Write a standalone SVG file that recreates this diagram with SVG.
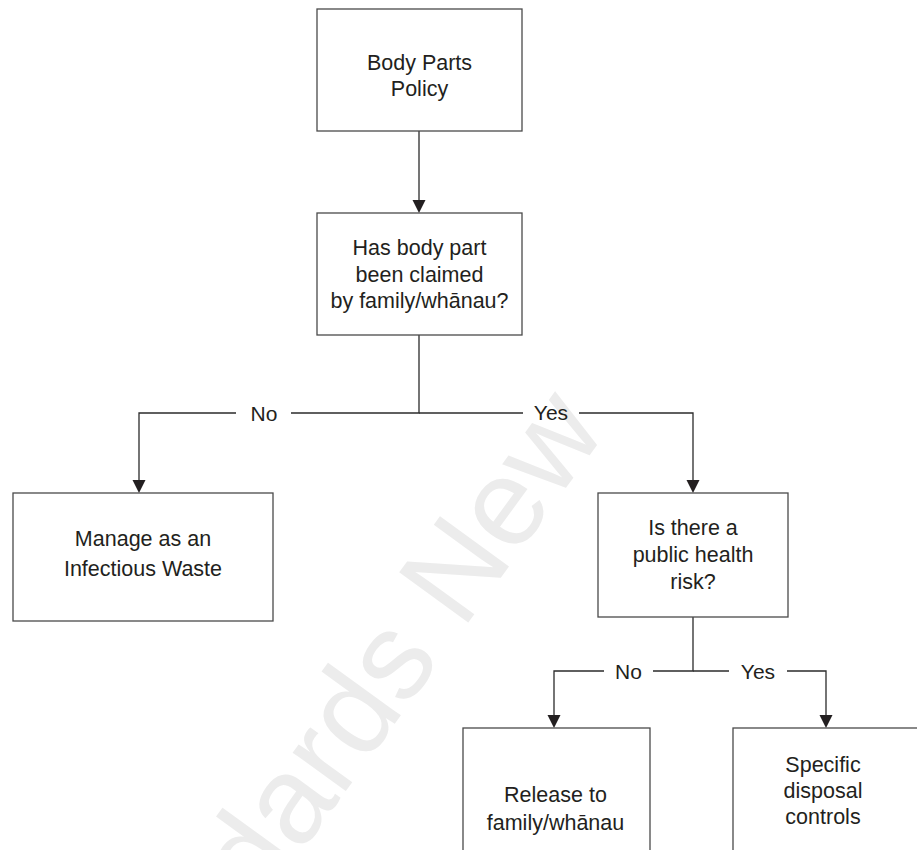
<svg xmlns="http://www.w3.org/2000/svg" width="917" height="850" viewBox="0 0 917 850">
<style>
  .box { fill: #ffffff; stroke: #4a4a4a; stroke-width: 1.3; }
  .t { font-family: "Liberation Sans", Arial, Helvetica, sans-serif; font-size: 21.5px; fill: #231f20; text-anchor: middle; }
  .lbl { font-family: "Liberation Sans", Arial, Helvetica, sans-serif; font-size: 21px; fill: #231f20; text-anchor: middle; }
  .ln { fill: none; stroke: #2b2b2b; stroke-width: 1.3; }
  .wm { font-family: "Liberation Sans", Arial, Helvetica, sans-serif; font-size: 124px; fill: #ececec; }
  .arrow { fill: #231f20; }
</style>
<rect width="917" height="850" fill="#ffffff"/>
<g id="watermark">
  <text class="wm" x="608" y="430" text-anchor="end" transform="rotate(-54 608 430)">Standards New</text>
</g>
<g id="connectors">
  <path class="ln" d="M419,131 V200"/>
  <path class="arrow" d="M412.5,200 L425.5,200 L419,213 Z"/>
  <path class="ln" d="M419,335 V413 H291"/>
  <path class="ln" d="M236,413 H139 V480"/>
  <path class="arrow" d="M132.5,480 L145.5,480 L139,493 Z"/>
  <path class="ln" d="M419,413 H523"/>
  <path class="ln" d="M579,413 H693 V480"/>
  <path class="arrow" d="M686.5,480 L699.5,480 L693,493 Z"/>
  <path class="ln" d="M693,617 V671 H653"/>
  <path class="ln" d="M604,671 H554 V715"/>
  <path class="arrow" d="M547.5,715 L560.5,715 L554,728 Z"/>
  <path class="ln" d="M693,671 H729"/>
  <path class="ln" d="M787,671 H826 V715"/>
  <path class="arrow" d="M819.5,715 L832.5,715 L826,728 Z"/>
  <text class="lbl" x="264" y="420.5">No</text>
  <text class="lbl" x="551" y="420">Yes</text>
  <text class="lbl" x="628.5" y="678.5">No</text>
  <text class="lbl" x="758" y="678.5">Yes</text>
</g>
<g id="n1">
  <rect class="box" x="317" y="9" width="205" height="122"/>
  <text class="t" x="419.5" y="70">Body Parts</text>
  <text class="t" x="419.5" y="96">Policy</text>
</g>
<g id="n2">
  <rect class="box" x="317" y="213" width="205" height="122"/>
  <text class="t" x="419.5" y="255">Has body part</text>
  <text class="t" x="419.5" y="281.5">been claimed</text>
  <text class="t" x="419.5" y="307.5">by family/whānau?</text>
</g>
<g id="n3">
  <rect class="box" x="13" y="493" width="260" height="128"/>
  <text class="t" x="143" y="545.5">Manage as an</text>
  <text class="t" x="143" y="575.5">Infectious Waste</text>
</g>
<g id="n4">
  <rect class="box" x="598" y="493" width="190" height="124"/>
  <text class="t" x="693" y="535">Is there a</text>
  <text class="t" x="693" y="562">public health</text>
  <text class="t" x="693" y="588.5">risk?</text>
</g>
<g id="n5">
  <rect class="box" x="463" y="728" width="187" height="140"/>
  <text class="t" x="555.5" y="802">Release to</text>
  <text class="t" x="555.5" y="830">family/whānau</text>
</g>
<g id="n6">
  <rect class="box" x="733" y="728" width="187" height="140"/>
  <text class="t" x="823" y="772">Specific</text>
  <text class="t" x="823" y="798">disposal</text>
  <text class="t" x="823" y="824">controls</text>
</g>
</svg>
